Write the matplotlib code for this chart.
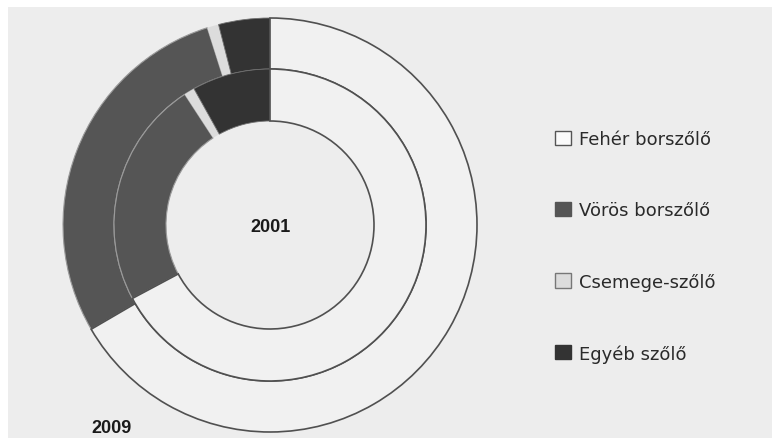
import matplotlib.pyplot as plt
from matplotlib.patches import Patch, Rectangle

plt.rcParams['font.family'] = ['Liberation Sans', 'DejaVu Sans']

# share of the vineyard area (%)
labels = ['Fehér borszőlő', 'Vörös borszőlő', 'Csemege-szőlő', 'Egyéb szőlő']
share_2001 = [67.2, 23.6, 1.1, 8.1]
share_2009 = [66.6, 28.5, 0.9, 4.0]
colors = ['#f1f1f1', '#555555', '#dcdcdc', '#333333']
edges = ['#505050', '#9a9a9a', 'none', '#707070']
edge_w = [1.2, 0.8, 0, 0.6]

W, H = 772, 439
fig = plt.figure(figsize=(W / 100, H / 100), dpi=100)
fig.patch.set_facecolor('white')
fig.patches.append(Rectangle((8 / W, 0), 1, 1 - 8 / H, transform=fig.transFigure,
                             facecolor='#ededed', edgecolor='none', zorder=-1))

ax = fig.add_axes([0, 0, 1, 1])
ax.set_facecolor('none')

cx, cy = 270, H - 226
r_out, r_mid, r_in = 207, 156, 104

outer, _ = ax.pie(share_2009, colors=colors, startangle=90, counterclock=False,
                  radius=r_out, center=(cx, cy), frame=True,
                  wedgeprops=dict(width=r_out - r_mid))
inner, _ = ax.pie(share_2001, colors=colors, startangle=90, counterclock=False,
                  radius=r_mid, center=(cx, cy), frame=True,
                  wedgeprops=dict(width=r_mid - r_in))
for ring in (outer, inner):
    for w, ec, lw in zip(ring, edges, edge_w):
        w.set_edgecolor(ec)
        w.set_linewidth(lw)
    # keep the dark outline of the white slice on top
    ring[0].set_zorder(2)

ax.set_xlim(0, W)
ax.set_ylim(0, H)
ax.set_aspect('equal')
ax.axis('off')

ax.text(cx, cy - 1, '2001', ha='center', va='center', fontsize=13, fontweight='bold', color='#1a1a1a')
ax.text(111, H - 429, '2009', ha='center', va='center', fontsize=13, fontweight='bold', color='#1a1a1a')

handles = [Patch(facecolor=c, edgecolor=e) for c, e in
           zip(['#fafafa', '#555555', '#dcdcdc', '#333333'], ['#555555', '#555555', '#777777', '#333333'])]
ax.legend(handles, labels, loc='upper left', bbox_to_anchor=(548 / W, 1 - 124 / H),
          frameon=False, prop=dict(family='DejaVu Sans', size=13), handlelength=0.85,
          handleheight=0.85, handletextpad=0.45, labelspacing=2.95, borderaxespad=0,
          labelcolor='#2a2a2a')

fig.savefig('out.png', dpi=100)
